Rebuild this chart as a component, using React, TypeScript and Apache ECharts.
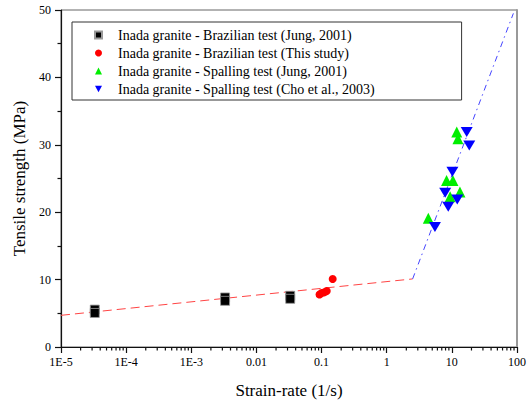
import React, { useEffect, useRef } from "react";
import * as echarts from "echarts";

// Data (strain-rate in 1/s, tensile strength in MPa)
const brazilianJung: number[][] = [
  [3.3e-5, 5.55], [3.3e-5, 5.05],
  [3.3e-3, 7.35], [3.3e-3, 6.85],
  [3.3e-2, 7.6], [3.3e-2, 7.15],
];
const brazilianThisStudy: number[][] = [
  [0.093, 7.8], [0.1, 8.0], [0.11, 8.1], [0.12, 8.3], [0.148, 10.1],
];
const spallingJung: number[][] = [
  [11.9, 31.9], [12.4, 30.9], [8.3, 24.7], [10.4, 24.7], [13.3, 23.0], [9.4, 22.3], [4.35, 19.1],
];
const spallingCho: number[][] = [
  [16.9, 31.9], [18.5, 29.9], [10.2, 26.0], [7.9, 22.9], [12.1, 21.9], [8.8, 20.8], [5.5, 17.8],
];
const quasiStaticFit: number[][] = [[1e-5, 4.7], [2.5, 10.1]];
const dynamicFit: number[][] = [[2.5, 10.1], [88, 49.5]];

const seriesNames = [
  "Inada granite - Brazilian test (Jung, 2001)",
  "Inada granite - Brazilian test (This study)",
  "Inada granite - Spalling test (Jung, 2001)",
  "Inada granite - Spalling test (Cho et al., 2003)",
];
const xTickLabels = ["1E-5", "1E-4", "1E-3", "0.01", "0.1", "1", "10", "100"];
const xDecades = [1e-5, 1e-4, 1e-3, 1e-2, 1e-1, 1, 10];
const minorTickMultipliers = [2, 3, 4, 5, 6, 7, 8, 9];
const xMin = 1e-5;
const xMax = 100;

const FONT = "Liberation Serif, Times New Roman, serif";
const DOWN_TRI = "path://M0,0 L10,0 L5,9 Z";

export default function App() {
  const ref = useRef<HTMLDivElement>(null);
  useEffect(() => {
    if (!ref.current) return;
    const chart = echarts.init(ref.current, undefined, { renderer: "svg" });
    const minorTicks: number[][] = [];
    xDecades.forEach((d) => minorTickMultipliers.forEach((m) => minorTicks.push([d * m, 0])));
    chart.setOption({
      animation: false,
      backgroundColor: "#fff",
      textStyle: { fontFamily: FONT },
      grid: {
        left: 61, right: 14, top: 10, bottom: 55,
        show: true, borderColor: "#666", borderWidth: 1,
      },
      legend: {
        data: seriesNames,
        orient: "vertical",
        left: 72, top: 22,
        padding: [6, 87, 4, 22],
        itemWidth: 7, itemHeight: 7, itemGap: 4,
        borderColor: "#333", borderWidth: 1,
        textStyle: {
          fontFamily: FONT, fontSize: 14, color: "#000", lineHeight: 14,
          padding: [0, 0, 0, 11],
        },
      },
      xAxis: {
        type: "log", logBase: 10, min: xMin, max: xMax, interval: 1,
        name: "Strain-rate (1/s)", nameLocation: "middle", nameGap: 35,
        nameTextStyle: { fontFamily: FONT, fontSize: 17, color: "#000" },
        axisLine: { show: true, onZero: false, lineStyle: { color: "#111", width: 1.2 } },
        axisTick: { show: true, length: 6, lineStyle: { color: "#111", width: 1.2 } },
        axisLabel: {
          fontFamily: FONT, fontSize: 12, color: "#000", margin: 9,
          formatter: (v: number) => {
            const e = Math.round(Math.log10(v));
            return xTickLabels[e - Math.round(Math.log10(xMin))] ?? "";
          },
        },
        splitLine: { show: false },
        z: 5,
      },
      yAxis: [
        {
          type: "value", min: 0, max: 50, interval: 10,
          name: "Tensile strength (MPa)", nameLocation: "middle", nameGap: 32,
          nameTextStyle: { fontFamily: FONT, fontSize: 17, color: "#000" },
          axisLine: { show: true, onZero: false, lineStyle: { color: "#111", width: 1.2 } },
          axisTick: { show: true, length: 6, lineStyle: { color: "#111", width: 1.2 } },
          minorTick: { show: true, splitNumber: 2, length: 3.5, lineStyle: { color: "#111", width: 1.2 } },
          axisLabel: { fontFamily: FONT, fontSize: 12, color: "#000", margin: 10 },
          splitLine: { show: false },
        },
        {
          type: "value", min: 0, max: 50, position: "right",
          axisLine: { show: true, onZero: false, lineStyle: { color: "#999", width: 2 } },
          axisTick: { show: false }, axisLabel: { show: false },
          splitLine: { show: false },
        },
      ],
      series: [
        {
          // minor log ticks on the x axis (below the axis line)
          type: "scatter", data: minorTicks, silent: true, clip: false,
          symbol: "rect", symbolSize: [1.2, 3.5], symbolOffset: [0, 1.75],
          itemStyle: { color: "#111", opacity: 1 }, z: 6,
        },
        {
          type: "line", data: quasiStaticFit, symbol: "none", silent: true,
          lineStyle: { color: "#ff4444", width: 1, type: [9, 5] }, z: 1,
        },
        {
          type: "line", data: dynamicFit, symbol: "none", silent: true,
          lineStyle: { color: "#4444ff", width: 1, type: [6, 4, 1.5, 4] }, z: 1,
        },
        {
          name: seriesNames[0], type: "scatter", data: brazilianJung,
          symbol: "rect", symbolSize: 9,
          itemStyle: { color: "#000", borderColor: "#999", borderWidth: 0.8, opacity: 1 }, z: 3,
        },
        {
          name: seriesNames[1], type: "scatter", data: brazilianThisStudy,
          symbol: "circle", symbolSize: 8,
          itemStyle: { color: "#ff0000", opacity: 1 }, z: 3,
        },
        {
          name: seriesNames[2], type: "scatter", data: spallingJung,
          symbol: "triangle", symbolSize: 11,
          itemStyle: { color: "#00ee00", opacity: 1 }, z: 3,
        },
        {
          name: seriesNames[3], type: "scatter", data: spallingCho,
          symbol: DOWN_TRI, symbolSize: [12, 10],
          itemStyle: { color: "#0000ff", opacity: 1 }, z: 3,
        },
      ],
    });
    return () => chart.dispose();
  }, []);
  return <div ref={ref} style={{ width: 531, height: 404, position: "absolute", left: 0, top: 0 }} />;
}
